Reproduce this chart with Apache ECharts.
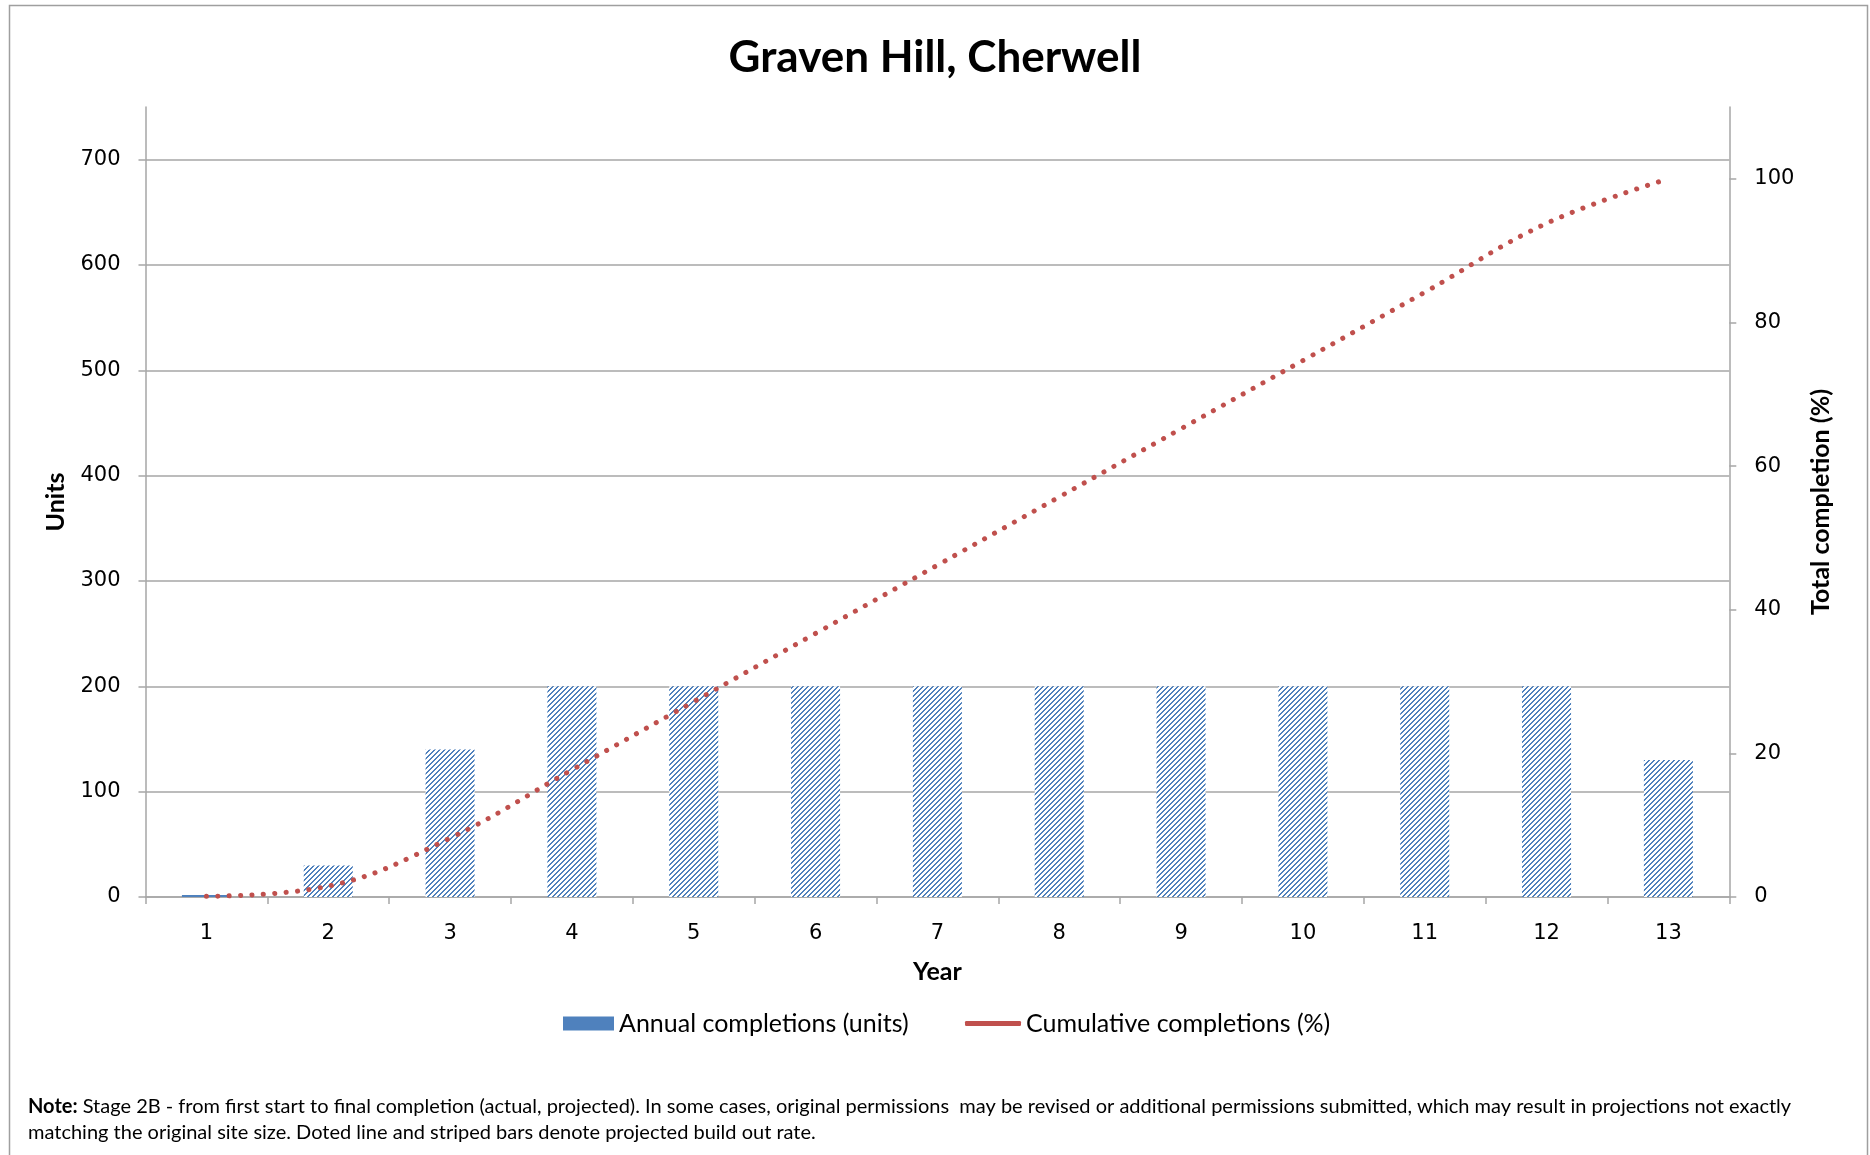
<!DOCTYPE html>
<html>
<head>
<meta charset="utf-8">
<script src="https://cdn.jsdelivr.net/npm/echarts@6/dist/echarts.min.js"></script>
<style>
html,body{margin:0;padding:0;background:#fff;}
#chart{width:1870px;height:1155px;}
</style>
</head>
<body>
<div id="chart"></div>
<script>
// ---- data ----
const years = ['1','2','3','4','5','6','7','8','9','10','11','12','13'];
const annualUnits = [2, 30, 140, 200, 200, 200, 200, 200, 200, 200, 200, 200, 130];
const cumulativePct = [0.1, 1.5, 8.2, 17.7, 27.2, 36.7, 46.2, 55.7, 65.2, 74.7, 84.2, 93.8, 100];
const unitsTicks = [0, 100, 200, 300, 400, 500, 600, 700];
const pctTicks = [0, 20, 40, 60, 80, 100];
const titleText = 'Graven Hill, Cherwell';
const noteBold = 'Note:';
const noteLine1 = ' Stage 2B - from first start to final completion (actual, projected). In some cases, original permissions  may be revised or additional permissions submitted, which may result in projections not exactly';
const noteLine2 = 'matching the original site size. Doted line and striped bars denote projected build out rate.';

// ---- stripe pattern (pixel tile) ----
function makeStripe() {
  const P = 5;
  const c = document.createElement('canvas');
  c.width = P; c.height = P;
  const g = c.getContext('2d');
  g.fillStyle = '#ffffff';
  g.fillRect(0, 0, P, P);
  g.fillStyle = '#4F81BD';
  for (let y = 0; y < P; y++) {
    for (let x = 0; x < P; x++) {
      const k = (x + y) % P;
      if (k === 3 || k === 4) g.fillRect(x, y, 1, 1);
    }
  }
  return c;
}
const stripe = {image: makeStripe(), repeat: 'repeat'};

const barData = annualUnits.map((v, i) => i === 0
  ? {value: v, itemStyle: {color: '#4F81BD'}}
  : {value: v});

const chart = echarts.init(document.getElementById('chart'), null, {renderer: 'canvas'});
const axisGray = '#A6A6A6';
const tickFont = 'DejaVu Sans';
const nameStyle = {fontFamily: 'Lato', fontWeight: 'bold', fontSize: 25, color: '#000'};
chart.setOption({
  animation: false,
  backgroundColor: '#fff',
  title: {
    text: titleText,
    left: 'center',
    top: 31,
    textStyle: {fontFamily: 'Lato', fontWeight: 'bold', fontSize: 44, color: '#000'}
  },
  grid: {left: 145.5, right: 140.7, top: 107, bottom: 1155 - 897, containLabel: false},
  legend: [
    {
      left: 558,
      top: 1006,
      itemWidth: 51,
      itemHeight: 14,
      textStyle: {fontFamily: 'Lato', fontSize: 25, color: '#000'},
      data: [{name: 'Annual completions (units)', icon: 'rect', itemStyle: {color: '#4F81BD'}}]
    },
    {
      left: 960,
      top: 1006,
      itemWidth: 56,
      itemHeight: 5,
      textStyle: {fontFamily: 'Lato', fontSize: 25, color: '#000'},
      data: [{name: 'Cumulative completions (%)', icon: 'roundRect', itemStyle: {color: '#C0504D'}}]
    }
  ],
  xAxis: {
    type: 'category',
    data: years,
    name: 'Year',
    nameLocation: 'middle',
    nameGap: 62,
    nameTextStyle: nameStyle,
    axisLine: {lineStyle: {color: axisGray, width: 1.5}},
    axisTick: {show: true, length: 7, lineStyle: {color: axisGray, width: 1.5}},
    axisLabel: {fontFamily: tickFont, fontSize: 21, color: '#000', margin: 26}
  },
  yAxis: [
    {
      type: 'value',
      min: 0, max: 750, interval: 100,
      name: 'Units',
      nameLocation: 'middle',
      nameGap: 77,
      nameTextStyle: nameStyle,
      axisLine: {show: true, lineStyle: {color: axisGray, width: 1.5}},
      axisTick: {show: true, length: 7, lineStyle: {color: axisGray, width: 1.5}},
      axisLabel: {fontFamily: tickFont, fontSize: 21, color: '#000', margin: 25, showMaxLabel: false,
        formatter: v => unitsTicks.includes(v) ? String(v) : ''},
      splitLine: {show: true, showMaxLine: false, lineStyle: {color: axisGray, width: 1.5}}
    },
    {
      type: 'value',
      min: 0, max: 110, interval: 20,
      name: 'Total completion (%)',
      nameLocation: 'middle',
      nameGap: 79,
      nameRotate: 90,
      nameTextStyle: nameStyle,
      axisLine: {show: true, lineStyle: {color: axisGray, width: 1.5}},
      axisTick: {show: true, length: 7, lineStyle: {color: axisGray, width: 1.5}},
      axisLabel: {fontFamily: tickFont, fontSize: 21, color: '#000', margin: 25, showMaxLabel: false,
        formatter: v => pctTicks.includes(v) ? String(v) : ''},
      splitLine: {show: false}
    }
  ],
  series: [
    {
      name: 'Annual completions (units)',
      type: 'bar',
      yAxisIndex: 0,
      data: barData,
      barWidth: 49,
      itemStyle: {color: stripe}
    },
    {
      name: 'Cumulative completions (%)',
      type: 'line',
      yAxisIndex: 1,
      data: cumulativePct,
      smooth: 0.4,
      symbol: 'none',
      showSymbol: false,
      itemStyle: {color: '#C0504D'},
      lineStyle: {color: '#C0504D', width: 5, type: [0.1, 11.3], cap: 'round'},
      z: 5
    }
  ],
  graphic: [
    {
      type: 'rect',
      silent: true,
      shape: {x: 9.5, y: 5.5, width: 1858, height: 1170},
      style: {fill: 'none', stroke: '#9F9F9F', lineWidth: 1.5},
      z: -1
    },
    {
      type: 'text',
      left: 28,
      top: 1094,
      style: {
        text: '{b|' + noteBold + '}' + noteLine1 + '\n' + noteLine2,
        fontFamily: 'Lato',
        fontSize: 20,
        lineHeight: 26,
        fill: '#000',
        rich: {b: {fontFamily: 'Lato', fontWeight: 'bold', fontSize: 20, lineHeight: 26, fill: '#000'}}
      }
    }
  ]
});
</script>
</body>
</html>
